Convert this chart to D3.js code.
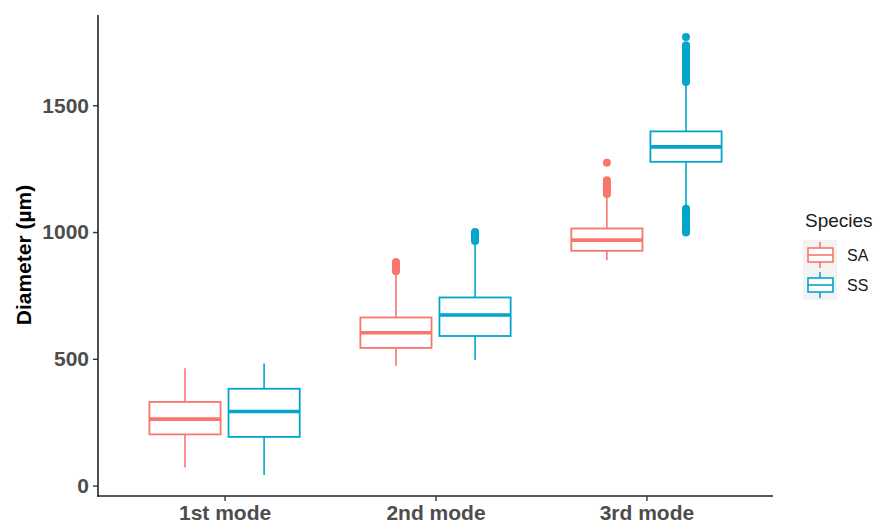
<!DOCTYPE html>
<html>
<head>
<meta charset="utf-8">
<script src="https://cdn.jsdelivr.net/npm/d3@7"></script>
<style>
  html, body { margin: 0; padding: 0; background: #ffffff; }
  svg { display: block; font-family: "Liberation Sans", Arial, sans-serif; }
</style>
</head>
<body>
<svg id="chart" width="879" height="526"></svg>
<script>
// ---- data ----
const categories = ["1st mode", "2nd mode", "3rd mode"];
const species = ["SA", "SS"];
const yTicks = [0, 500, 1000, 1500];

const saLower  = [71, 473, 889];
const saQ1     = [202, 543, 926];
const saMedian = [262, 603, 968];
const saQ3     = [330, 663, 1014];
const saUpper  = [463, 837, 1145];
const saOutliers = [
  [],
  [845, 852, 858, 863, 868, 873, 878, 882],
  [1150, 1158, 1165, 1172, 1180, 1188, 1196, 1204, 1273]
];

const ssLower  = [42, 495, 1099];
const ssQ1     = [192, 590, 1277];
const ssMedian = [292, 673, 1336];
const ssQ3     = [382, 742, 1397];
const ssUpper  = [482, 961, 1585];
const ssOutliers = [
  [],
  [965, 970, 975, 980, 985, 990, 995, 1000],
  [998, 1005, 1012, 1020, 1028, 1036, 1050, 1060, 1068, 1076, 1084, 1092,
   1592, 1600, 1610, 1620, 1630, 1640, 1650, 1660, 1670, 1680, 1690, 1700, 1710, 1720, 1730, 1737, 1769]
];

const colors = ["#F8766D", "#04A5CB"];

// ---- layout ----
const svg = d3.select("#chart");
const xLeft = 98, xRight = 773, yBottom = 496, yTop = 15;

const x = d3.scalePoint().domain(categories).range([xLeft, xRight]).padding(0.6);
const y = d3.scaleLinear().domain([-41, 1856]).range([yBottom, yTop]);
const dodge = d3.scaleBand().domain(species).range([-0.375, 0.375]);
const step = x.step();
const boxW = 0.75 / 2 * 0.9 * step;

const seriesData = species.map((s, si) => {
  const L = si === 0 ? [saLower, saQ1, saMedian, saQ3, saUpper, saOutliers]
                     : [ssLower, ssQ1, ssMedian, ssQ3, ssUpper, ssOutliers];
  return categories.map((c, ci) => ({
    species: s, si, cat: c,
    lo: L[0][ci], q1: L[1][ci], med: L[2][ci], q3: L[3][ci], hi: L[4][ci], out: L[5][ci]
  }));
});

const g = svg.append("g");
seriesData.forEach(series => {
  series.forEach(d => {
    const cx = x(d.cat) + (dodge(d.species) + dodge.bandwidth() / 2) * step;
    const col = colors[d.si];
    const bg = g.append("g");
    bg.append("line").attr("x1", cx).attr("x2", cx).attr("y1", y(d.q3)).attr("y2", y(d.hi))
      .attr("stroke", col).attr("stroke-width", 1.6);
    bg.append("line").attr("x1", cx).attr("x2", cx).attr("y1", y(d.q1)).attr("y2", y(d.lo))
      .attr("stroke", col).attr("stroke-width", 1.6);
    bg.append("rect").attr("x", cx - boxW / 2).attr("width", boxW)
      .attr("y", y(d.q3)).attr("height", y(d.q1) - y(d.q3))
      .attr("fill", "#ffffff").attr("stroke", col).attr("stroke-width", 1.8);
    bg.append("line").attr("x1", cx - boxW / 2).attr("x2", cx + boxW / 2)
      .attr("y1", y(d.med)).attr("y2", y(d.med))
      .attr("stroke", col).attr("stroke-width", 3.6);
    bg.selectAll("circle").data(d.out).join("circle")
      .attr("cx", cx).attr("cy", v => y(v)).attr("r", 4)
      .attr("fill", col);
  });
});

// ---- axes ----
const axisColor = "#222222";
const yAxis = svg.append("g").attr("transform", `translate(${xLeft},0)`)
  .call(d3.axisLeft(y).tickValues(yTicks).tickFormat(d3.format("d")).tickSize(5).tickPadding(4));
yAxis.select(".domain").attr("d", `M0,${yTop}V${yBottom + 0.8}`).attr("stroke", axisColor).attr("stroke-width", 1.6);
yAxis.selectAll(".tick line").attr("stroke", "#333").attr("stroke-width", 1.4);
yAxis.selectAll(".tick text").attr("fill", "#4D4D4D").attr("font-size", 21).attr("font-weight", "bold")
  .attr("font-family", "'Liberation Sans', Arial, sans-serif");

const xAxis = svg.append("g").attr("transform", `translate(0,${yBottom})`)
  .call(d3.axisBottom(x).tickSize(5));
xAxis.select(".domain").attr("d", `M${xLeft - 0.8},0H${xRight}`).attr("stroke", axisColor).attr("stroke-width", 1.6);
xAxis.selectAll(".tick line").attr("stroke", "#333").attr("stroke-width", 1.4);
xAxis.selectAll(".tick text").attr("fill", "#4D4D4D").attr("font-size", 21).attr("font-weight", "bold")
  .attr("font-family", "'Liberation Sans', Arial, sans-serif")
  .attr("y", 24).attr("dy", null);

// y title
svg.append("text")
  .attr("transform", "translate(31,255) rotate(-90)")
  .attr("text-anchor", "middle")
  .attr("font-size", 21).attr("font-weight", "bold").attr("fill", "#000")
  .text("Diameter (µm)");

// ---- legend ----
const leg = svg.append("g");
leg.append("text").attr("x", 805).attr("y", 226.5).attr("font-size", 19).attr("fill", "#1a1a1a").text("Species");
species.forEach((s, i) => {
  const ky = 240 + i * 30;
  const kg = leg.append("g");
  kg.append("rect").attr("x", 803).attr("y", ky).attr("width", 34).attr("height", 30).attr("fill", "#F3F3F3");
  const kcx = 820, kcy = ky + 15;
  kg.append("line").attr("x1", kcx).attr("x2", kcx).attr("y1", kcy - 13).attr("y2", kcy + 13)
    .attr("stroke", colors[i]).attr("stroke-width", 1.6);
  kg.append("rect").attr("x", 808).attr("y", kcy - 7).attr("width", 25).attr("height", 14)
    .attr("fill", "#fff").attr("stroke", colors[i]).attr("stroke-width", 1.6);
  kg.append("line").attr("x1", 808).attr("x2", 833).attr("y1", kcy).attr("y2", kcy)
    .attr("stroke", colors[i]).attr("stroke-width", 1.6);
  leg.append("text").attr("x", 847).attr("y", kcy + 5.5).attr("font-size", 16).attr("fill", "#1a1a1a").text(s);
});
</script>
</body>
</html>
